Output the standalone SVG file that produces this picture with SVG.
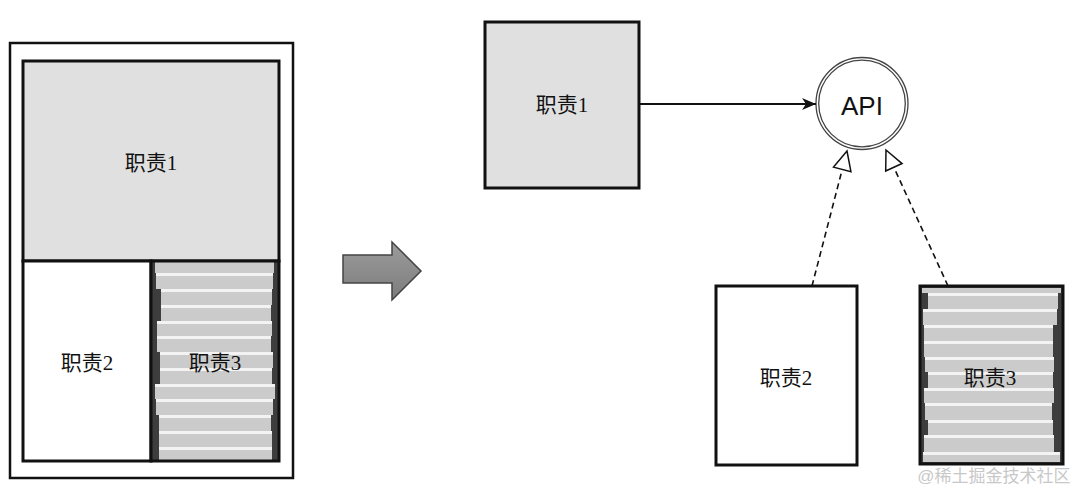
<svg xmlns="http://www.w3.org/2000/svg" width="1080" height="491" viewBox="0 0 1080 491">
<style>
.box{stroke:#111;stroke-width:3;}
.gray{fill:#e0e0e0;}
.white{fill:#fff;}
.lbl{font-family:"Liberation Serif","Noto Sans CJK SC",serif;font-size:21px;fill:#111;text-anchor:middle;}
.band{fill:#cbcbcb;}
.wl{fill:#f3f3f3;}
.dash{stroke:#111;stroke-width:1.6;stroke-dasharray:6 4;fill:none;}
.wm{font-family:"Liberation Sans","Noto Sans CJK SC",sans-serif;font-size:17px;fill:#c8c8c8;text-anchor:middle;}
</style>
<defs>
<linearGradient id="ag" x1="0" y1="0" x2="0" y2="1">
<stop offset="0" stop-color="#9c9c9c"/>
<stop offset="1" stop-color="#7c7c7c"/>
</linearGradient>
<marker id="solid" markerUnits="userSpaceOnUse" markerWidth="20" markerHeight="16" refX="0" refY="0" orient="auto" overflow="visible">
<path d="M0,0 L-14,-6 L-10,0 L-14,6 Z" fill="#111"/>
</marker>
<marker id="hollow" markerUnits="userSpaceOnUse" markerWidth="24" markerHeight="22" refX="0" refY="0" orient="auto" overflow="visible">
<path d="M0,0 L-19,-9 L-19,9 Z" fill="#fff" stroke="#111" stroke-width="1.5"/>
</marker>
</defs>
<rect width="1080" height="491" fill="#fff"/>

<g id="left-frame">
<rect x="10" y="43" width="283" height="435" fill="#fff" stroke="#111" stroke-width="2.5"/>
</g>

<g id="left-r1">
<rect class="box gray" x="23" y="61" width="256" height="200"/>
<text class="lbl" x="151" y="170" font-size="22">职责1</text>
</g>

<g id="left-r2">
<rect class="box white" x="23" y="261" width="128" height="200"/>
<text class="lbl" x="87" y="370" font-size="22">职责2</text>
</g>

<g id="left-r3">
<rect x="151" y="261" width="128" height="200" fill="#3d3d3d"/>
<rect class="band" x="155" y="262" width="119" height="11"/>
<rect class="band" x="156" y="273" width="117" height="16"/><rect class="wl" x="156" y="273" width="117" height="3"/>
<rect class="band" x="161" y="289" width="111" height="16"/><rect class="wl" x="161" y="289" width="111" height="3"/>
<rect class="band" x="161" y="305" width="110" height="16"/><rect class="wl" x="161" y="305" width="110" height="3"/>
<rect class="band" x="157" y="321" width="115" height="15"/><rect class="wl" x="157" y="321" width="115" height="3"/>
<rect class="band" x="157" y="336" width="114" height="16"/><rect class="wl" x="157" y="336" width="114" height="3"/>
<rect class="band" x="160" y="352" width="113" height="16"/><rect class="wl" x="160" y="352" width="113" height="3"/>
<rect class="band" x="160" y="368" width="112" height="16"/><rect class="wl" x="160" y="368" width="112" height="3"/>
<rect class="band" x="155" y="384" width="120" height="15"/><rect class="wl" x="155" y="384" width="120" height="3"/>
<rect class="band" x="156" y="399" width="117" height="16"/><rect class="wl" x="156" y="399" width="117" height="3"/>
<rect class="band" x="159" y="415" width="112" height="16"/><rect class="wl" x="159" y="415" width="112" height="3"/>
<rect class="band" x="159" y="431" width="113" height="16"/><rect class="wl" x="159" y="431" width="113" height="3"/>
<rect class="band" x="159" y="447" width="113" height="13"/><rect class="wl" x="159" y="447" width="113" height="3"/>
<rect class="box" x="151" y="261" width="128" height="200" fill="none"/>
<text class="lbl" x="215" y="370" font-size="22">职责3</text>
</g>

<g id="block-arrow">
<polygon points="343,255 392,255 392,242 421,271 392,300 392,283 343,283" fill="url(#ag)" stroke="#444" stroke-width="1.5"/>
</g>

<g id="r1">
<rect class="box gray" x="485" y="22" width="154" height="166"/>
<text class="lbl" x="562" y="112">职责1</text>
</g>

<g id="api">
<circle cx="862" cy="103.5" r="46" fill="#fff" stroke="#444" stroke-width="1.3"/>
<circle cx="862" cy="103.5" r="43.3" fill="none" stroke="#444" stroke-width="1.3"/>
<text x="862" y="115" font-family="Liberation Sans, Arial, sans-serif" font-size="26" fill="#111" text-anchor="middle">API</text>
</g>

<g id="r2">
<rect class="box white" x="716" y="286" width="141" height="179"/>
<text class="lbl" x="786" y="385">职责2</text>
</g>

<g id="r3">
<rect x="920" y="286" width="143" height="178" fill="#3d3d3d"/>
<rect class="band" x="922" y="288" width="139" height="5"/>
<rect class="band" x="928" y="293" width="130" height="16"/><rect class="wl" x="928" y="293" width="130" height="3"/>
<rect class="band" x="923" y="309" width="134" height="16"/><rect class="wl" x="923" y="309" width="134" height="3"/>
<rect class="band" x="924" y="325" width="129" height="16"/><rect class="wl" x="924" y="325" width="129" height="3"/>
<rect class="band" x="924" y="341" width="129" height="16"/><rect class="wl" x="924" y="341" width="129" height="3"/>
<rect class="band" x="925" y="357" width="129" height="15"/><rect class="wl" x="925" y="357" width="129" height="3"/>
<rect class="band" x="928" y="372" width="125" height="16"/><rect class="wl" x="928" y="372" width="125" height="3"/>
<rect class="band" x="924" y="388" width="130" height="15"/><rect class="wl" x="924" y="388" width="130" height="3"/>
<rect class="band" x="925" y="403" width="127" height="17"/><rect class="wl" x="925" y="403" width="127" height="3"/>
<rect class="band" x="928" y="420" width="125" height="15"/><rect class="wl" x="928" y="420" width="125" height="3"/>
<rect class="band" x="924" y="435" width="130" height="17"/><rect class="wl" x="924" y="435" width="130" height="3"/>
<rect class="band" x="923" y="452" width="137" height="10"/><rect class="wl" x="923" y="452" width="137" height="3"/>
<rect class="box" x="920" y="286" width="143" height="178" fill="none"/>
<text class="lbl" x="990" y="385">职责3</text>
</g>

<g id="connectors">
<line x1="639" y1="104" x2="816" y2="104" stroke="#111" stroke-width="1.8" marker-end="url(#solid)"/>
<line class="dash" x1="812" y1="286" x2="847" y2="151" marker-end="url(#hollow)"/>
<line class="dash" x1="948" y1="286" x2="886" y2="150" marker-end="url(#hollow)"/>
</g>

<g id="watermark">
<text class="wm" x="994" y="482">@稀土掘金技术社区</text>
</g>
</svg>
